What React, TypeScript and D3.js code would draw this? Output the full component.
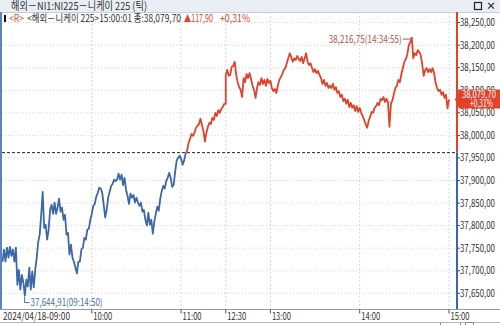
import React from "react";
import * as d3 from "d3";

const W = 500;
const H = 325;

// 1-minute prices, morning session 09:00 .. 11:30
const morningValues = [
  37720, 37747, 37720, 37751, 37729, 37753, 37733, 37747, 37720, 37751,
  37669, 37702, 37658, 37691, 37674, 37644.91, 37680, 37665, 37707, 37658,
  37698, 37663, 37702, 37729, 37764, 37780, 37824, 37875, 37795, 37802,
  37769, 37791, 37835, 37846, 37826, 37851, 37826, 37840, 37860, 37831,
  37840, 37813, 37824, 37780, 37784, 37736, 37758, 37729, 37720, 37707,
  37694, 37720, 37720, 37747, 37751, 37773, 37769, 37791, 37793, 37813,
  37826, 37844, 37848, 37864, 37873, 37884, 37882, 37873, 37846, 37818,
  37835, 37862, 37875, 37888, 37893, 37902, 37899, 37902, 37915, 37902,
  37913, 37890, 37906, 37879, 37866, 37848, 37871, 37862, 37868, 37851,
  37862, 37851, 37844, 37851, 37831, 37835, 37813, 37800, 37829, 37802,
  37813, 37782, 37809, 37826, 37842, 37833, 37860, 37877, 37888, 37882,
  37899, 37906, 37917, 37906, 37886, 37890, 37919, 37944, 37950, 37955,
  37948, 37935, 37944, 37959, 37966, 37983, 37992, 38003, 37999, 38006,
  38017, 38021, 38025, 38037, 38023, 38010, 37986, 38006, 38019, 38028,
  38025, 38039, 38034, 38050, 38043, 38056, 38050, 38059, 38063, 38070, 38070,
];

// 1-minute prices, afternoon session 12:30 .. 15:00
const afternoonValues = [
  38134, 38145, 38132, 38134, 38152, 38154, 38163, 38134, 38118, 38107,
  38101, 38085, 38127, 38118, 38136, 38127, 38138, 38125, 38110, 38101,
  38083, 38105, 38118, 38112, 38127, 38114, 38123, 38110, 38125, 38116,
  38121, 38105, 38098, 38103, 38094, 38110, 38123, 38129, 38136, 38145,
  38149, 38160, 38171, 38182, 38174, 38163, 38171, 38167, 38176, 38169,
  38165, 38174, 38160, 38171, 38182, 38163, 38156, 38160, 38149, 38140,
  38147, 38138, 38143, 38134, 38127, 38114, 38123, 38110, 38116, 38105,
  38110, 38105, 38114, 38101, 38107, 38094, 38098, 38085, 38090, 38076,
  38081, 38070, 38079, 38063, 38072, 38061, 38067, 38054, 38065, 38052,
  38061, 38050, 38043, 38034, 38025, 38017, 38032, 38041, 38052, 38050,
  38061, 38065, 38072, 38067, 38081, 38078, 38085, 38074, 38081, 38074,
  38019, 38070, 38078, 38092, 38105, 38110, 38123, 38118, 38136, 38149,
  38163, 38169, 38180, 38200, 38207, 38216.75, 38171, 38182, 38178, 38189,
  38185, 38178, 38158, 38132, 38145, 38149, 38140, 38147, 38140, 38149,
  38138, 38116, 38105, 38098, 38101, 38090, 38096, 38083, 38090, 38060, 38079.7,
];

const morningStart = "09:00";
const afternoonStart = "12:30";

const yTickValues = [37650, 37700, 37750, 37800, 37850, 37900, 37950, 38000, 38050, 38100, 38150, 38200, 38250];
const xTickTimes = ["09:00", "10:00", "11:00", "12:30", "13:00", "14:00", "15:00"];
const xTickLabels = ["2024/04/18-09:00", "10:00", "11:00", "12:30", "13:00", "14:00", "15:00"];

const titleText = "해외－NI1:NI225－니케이 225 (틱)";
const instrumentText = "<해외－니케이 225>";
const lastTime = "15:00:01";
const prevClose = 37961.8;
const lastPrice = 38079.7;
const changeAbs = 117.9;
const changePct = 0.31;
const highTime = "14:34:55";
const highValue = 38216.75;
const lowTime = "09:14:50";
const lowValue = 37644.91;

const RED = "#e2412a";
const BLUE = "#3c68a8";
const FONT = "'Noto Sans CJK KR', 'DejaVu Sans', sans-serif";

const clockMinutes = (t: string) => {
  const p = t.split(":").map(Number);
  return p[0] * 60 + p[1] + (p[2] || 0) / 60;
};
// session minutes (lunch break 11:30-12:30 removed)
const toSession = (t: string) => {
  const m = clockMinutes(t);
  return m <= 690 ? m - 540 : m - 600;
};

const fmtNum = (v: number) => d3.format(",.2f")(v).replace(".", ",");

const PLOT_L = 2;
const PLOT_R = 457;
const PLOT_T = 12;
const PLOT_B = 309.5;

export default function App() {
  const x = d3.scaleLinear().domain([0, 300]).range([2.5, 449]);
  const y = d3.scaleLinear().domain([37650, 38250]).range([293.3, 22.6]);

  const ms = toSession(morningStart);
  const as = toSession(afternoonStart);
  const points: { s: number; v: number }[] = [
    ...morningValues.map((v, i) => ({ s: ms + i, v })),
    ...afternoonValues.map((v, j) => ({ s: as + j, v })),
  ];
  const line = d3
    .line<{ s: number; v: number }>()
    .x((d) => x(d.s))
    .y((d) => y(d.v));
  const path = line(points) || "";
  const yBase = y(prevClose);

  const hx = x(toSession(highTime));
  const hy = y(highValue);
  const lx = x(toSession(lowTime));
  const ly = y(lowValue);
  const lastY = y(lastPrice);

  return (
    <svg
      width={W}
      height={H}
      style={{ position: "fixed", left: 0, top: 0, background: "#fff", fontFamily: FONT }}
    >
      <defs>
        <clipPath id="above">
          <rect x={PLOT_L} y={PLOT_T} width={PLOT_R - PLOT_L} height={yBase - PLOT_T} />
        </clipPath>
        <clipPath id="below">
          <rect x={PLOT_L} y={yBase} width={PLOT_R - PLOT_L} height={PLOT_B - yBase} />
        </clipPath>
      </defs>
      <rect x={0} y={0} width={W} height={H} fill="#fff" />

      {/* title bar */}
      <rect x={0} y={0} width={W} height={12} fill="#e9eef5" />
      <line x1={0} x2={W} y1={12.5} y2={12.5} stroke="#c3cfdd" />
      <text x={11} y={10} fontSize={11} fill="#333" textLength={136} lengthAdjust="spacingAndGlyphs">
        {titleText}
      </text>
      <rect x={474.5} y={2.5} width={7} height={7} fill="none" stroke="#222" strokeWidth={1.2} />
      <text x={486} y={10} fontSize={10} fill="#222" fontWeight="bold">×</text>

      {/* grid */}
      {yTickValues.map((v) => (
        <line key={"gy" + v} x1={PLOT_L} x2={PLOT_R} y1={y(v)} y2={y(v)} stroke="#d4d4d4" strokeDasharray="1,2" />
      ))}
      {xTickTimes.slice(1).map((t) => (
        <line key={"gx" + t} x1={x(toSession(t))} x2={x(toSession(t))} y1={PLOT_T} y2={PLOT_B} stroke="#d8d8d8" strokeDasharray="2,2" />
      ))}

      {/* header line */}
      <rect x={4} y={15} width={2} height={7} fill="#111" />
      <text x={9} y={22} fontSize={10} fill="#c8503f" textLength={15} lengthAdjust="spacingAndGlyphs">{"<R>"}</text>
      <text x={27} y={22} fontSize={10} fill="#333" textLength={154} lengthAdjust="spacingAndGlyphs">
        {`${instrumentText}${lastTime} 종:${fmtNum(lastPrice)}`}
      </text>
      <text x={184} y={22} fontSize={10} fill={RED} textLength={29} lengthAdjust="spacingAndGlyphs">
        {`▲${fmtNum(changeAbs)}`}
      </text>
      <text x={220} y={22} fontSize={10} fill={RED} textLength={30} lengthAdjust="spacingAndGlyphs">
        {`+${fmtNum(changePct)}%`}
      </text>

      {/* previous close */}
      <line x1={PLOT_L} x2={PLOT_R} y1={yBase} y2={yBase} stroke="#222" strokeDasharray="3,2" />

      {/* price line */}
      <path d={path} fill="none" stroke={RED} strokeWidth={1.8} clipPath="url(#above)" strokeLinejoin="round" />
      <path d={path} fill="none" stroke={BLUE} strokeWidth={1.8} clipPath="url(#below)" strokeLinejoin="round" />

      {/* high annotation */}
      <text x={hx - 10} y={42.5} fontSize={10} fill="#c0504d" textAnchor="end" textLength={73} lengthAdjust="spacingAndGlyphs">
        {`${fmtNum(highValue)}(${highTime})`}
      </text>
      <polyline points={`${hx - 9},${hy + 1.5} ${hx - 2},${hy + 1.5} ${hx},${hy}`} fill="none" stroke="#c0504d" />

      {/* low annotation */}
      <polyline points={`${lx},${ly + 1} ${lx},${ly + 7} ${lx + 5},${ly + 7}`} fill="none" stroke="#4a6fa5" />
      <text x={lx + 6} y={305.5} fontSize={10} fill="#4a6fa5" textLength={72} lengthAdjust="spacingAndGlyphs">
        {`${fmtNum(lowValue)}(${lowTime})`}
      </text>

      {/* left edge */}
      <line x1={1} x2={1} y1={12} y2={PLOT_B} stroke="#5f82b8" strokeWidth={2} />

      {/* right axis */}
      <line x1={PLOT_R} x2={PLOT_R} y1={PLOT_T} y2={yBase} stroke={RED} strokeWidth={2} />
      <line x1={PLOT_R} x2={PLOT_R} y1={yBase} y2={PLOT_B} stroke={BLUE} strokeWidth={2} />
      {yTickValues.map((v) => (
        <g key={"yt" + v}>
          <line x1={PLOT_R + 1} x2={PLOT_R + 3} y1={y(v)} y2={y(v)} stroke="#444" />
          <text x={460} y={y(v) + 3.5} fontSize={10} fill="#333" textLength={35} lengthAdjust="spacingAndGlyphs">
            {fmtNum(v)}
          </text>
        </g>
      ))}

      {/* last price box */}
      <path d={`M455,${lastY} L459,${lastY - 10} L500,${lastY - 10} L500,${lastY + 9} L459,${lastY + 9} Z`} fill={RED} />
      <text x={462} y={lastY - 1.5} fontSize={10} fill="#fff" textLength={34} lengthAdjust="spacingAndGlyphs">
        {fmtNum(lastPrice)}
      </text>
      <text x={470} y={lastY + 7.5} fontSize={10} fill="#fff" textLength={23} lengthAdjust="spacingAndGlyphs">
        {`+${fmtNum(changePct)}%`}
      </text>

      {/* bottom axis */}
      <line x1={0} x2={W} y1={PLOT_B} y2={PLOT_B} stroke="#9a9a9a" />
      {xTickTimes.map((t, i) => {
        const tx = x(toSession(t));
        const first = i === 0;
        return (
          <g key={"xt" + t}>
            {!first && <line x1={tx} x2={tx} y1={PLOT_B} y2={PLOT_B + 4} stroke="#555" />}
            <text
              x={first ? 3 : tx + 1.5}
              y={320}
              fontSize={10}
              fill="#333"
              textLength={first ? 67 : 19}
              lengthAdjust="spacingAndGlyphs"
            >
              {xTickLabels[i]}
            </text>
          </g>
        );
      })}
      <line x1={0} x2={W} y1={322.5} y2={322.5} stroke="#b5b5b5" />
      <line x1={440.5} x2={440.5} y1={322.5} y2={325} stroke="#888" />
      <line x1={460.5} x2={460.5} y1={322.5} y2={325} stroke="#888" />
      <rect x={465.5} y={322.5} width={8} height={3} fill="none" stroke="#888" />
    </svg>
  );
}
